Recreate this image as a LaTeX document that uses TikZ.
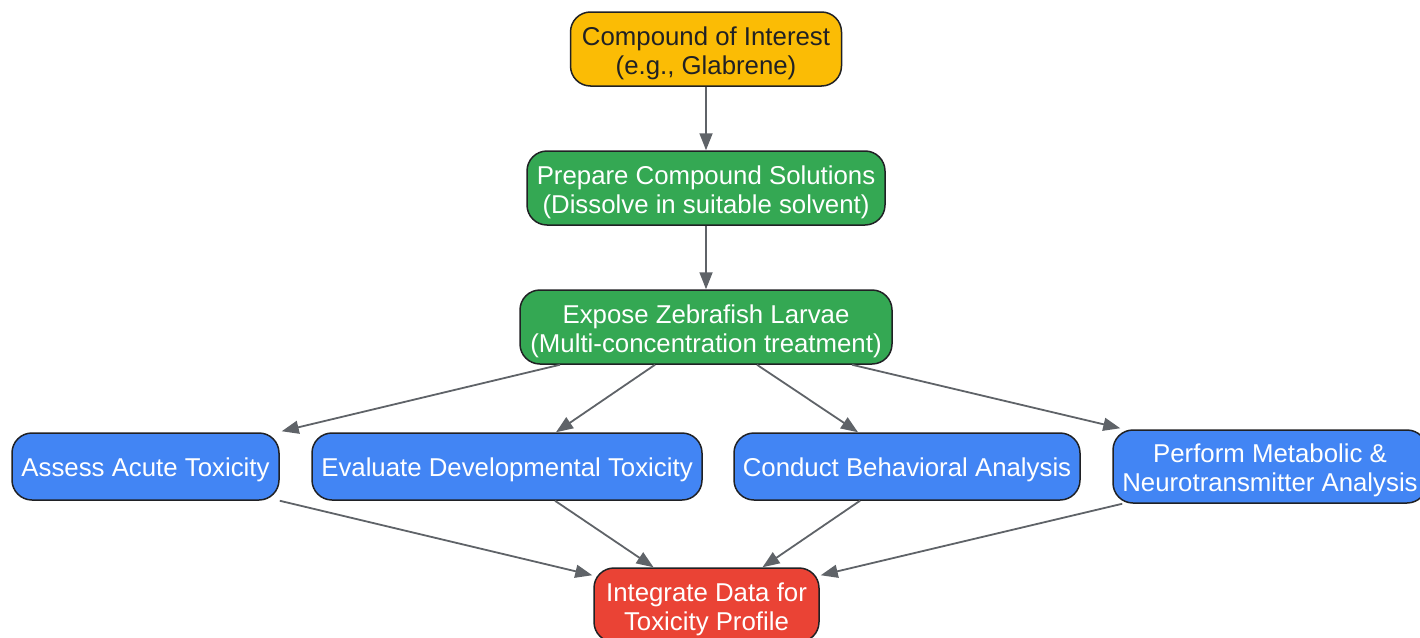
\documentclass[tikz,border=0pt]{standalone}
\usepackage{fontspec}
\setmainfont{Liberation Sans}
\usetikzlibrary{arrows.meta}
\definecolor{gyellow}{HTML}{FBBC05}
\definecolor{ggreen}{HTML}{34A853}
\definecolor{gblue}{HTML}{4285F4}
\definecolor{gred}{HTML}{EA4335}
\definecolor{edgegrey}{HTML}{5F6368}
\definecolor{inkdark}{HTML}{202124}
% strut that pushes the text a little down in its box
\newcommand{\topgap}[1]{\rule{0pt}{#1}}
\tikzset{
  box/.style={draw=inkdark, line width=1.5pt, rounded corners=20pt, align=center,
    inner sep=3pt, font=\fontsize{25.8}{29}\selectfont},
  startbox/.style={box, fill=gyellow, text=inkdark},
  prepbox/.style={box, fill=ggreen, text=white},
  testbox/.style={box, fill=gblue, text=white},
  endbox/.style={box, fill=gred, text=white},
  link/.style={->, draw=edgegrey, line width=1.8pt}
}
\begin{document}
\begin{tikzpicture}[x=1pt, y=-1pt, >={Triangle[length=17pt,width=13pt]}]
  \useasboundingbox (0,0) rectangle (1420,637);
  \node[startbox, minimum width=271pt, minimum height=74pt] (compound) at (706,49) {\topgap{27pt}Compound of Interest\\(e.g., Glabrene)};
  \node[prepbox, minimum width=358pt, minimum height=74pt] (prepare) at (706,188) {\topgap{27pt}Prepare Compound Solutions\\(Dissolve in suitable solvent)};
  \node[prepbox, minimum width=372pt, minimum height=74pt] (expose) at (706,327) {\topgap{27pt}Expose Zebrafish Larvae\\(Multi-concentration treatment)};
  \node[testbox, minimum width=267pt, minimum height=67pt] (acute) at (145.5,466.5) {\topgap{25pt}Assess Acute Toxicity};
  \node[testbox, minimum width=390pt, minimum height=67pt] (develop) at (507,466.5) {\topgap{25pt}Evaluate Developmental Toxicity};
  \node[testbox, minimum width=346pt, minimum height=67pt] (behavior) at (907,466.5) {\topgap{25pt}Conduct Behavioral Analysis};
  \node[testbox, minimum width=314pt, minimum height=73pt] (metabolic) at (1270,466.5) {\topgap{27pt}Perform Metabolic \&\\Neurotransmitter Analysis};
  \node[endbox, minimum width=225pt, minimum height=74pt] (integrate) at (706.5,605) {\topgap{27pt}Integrate Data for\\Toxicity Profile};

  \draw[link] (compound) -- (prepare);
  \draw[link] (prepare) -- (expose);
  \draw[link] ([xshift=-146pt]expose.south) -- ([xshift=2pt,yshift=1pt]acute.north east);
  \draw[link] ([xshift=-51pt]expose.south) -- ([xshift=49pt]develop.north);
  \draw[link] ([xshift=51pt]expose.south) -- ([xshift=-49pt]behavior.north);
  \draw[link] ([xshift=146pt]expose.south) -- ([xshift=8pt,yshift=1pt]metabolic.north west);
  \draw[link] (acute.south east) -- ([xshift=-1pt,yshift=-8pt]integrate.north west);
  \draw[link] ([xshift=48pt]develop.south) -- ([xshift=-53pt]integrate.north);
  \draw[link] ([xshift=-47pt]behavior.south) -- ([xshift=56pt]integrate.north);
  \draw[link] ([xshift=10pt]metabolic.south west) -- ([xshift=1pt,yshift=-8pt]integrate.north east);
\end{tikzpicture}
\end{document}
